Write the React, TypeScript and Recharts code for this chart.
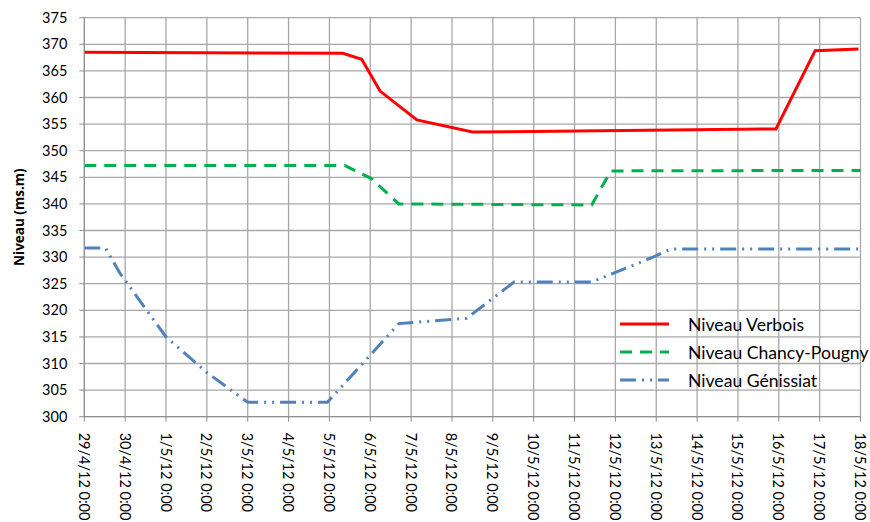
import React from 'react'
import { LineChart, Line, XAxis, YAxis, CartesianGrid, Legend } from 'recharts'

// x values are days since 29/4/12 0:00
const dayLabels = [
  '29/4/12 0:00', '30/4/12 0:00', '1/5/12 0:00', '2/5/12 0:00', '3/5/12 0:00',
  '4/5/12 0:00', '5/5/12 0:00', '6/5/12 0:00', '7/5/12 0:00', '8/5/12 0:00',
  '9/5/12 0:00', '10/5/12 0:00', '11/5/12 0:00', '12/5/12 0:00', '13/5/12 0:00',
  '14/5/12 0:00', '15/5/12 0:00', '16/5/12 0:00', '17/5/12 0:00', '18/5/12 0:00',
]
const dayTicks = dayLabels.map((_, i) => i)
const levelTicks = [300, 305, 310, 315, 320, 325, 330, 335, 340, 345, 350, 355, 360, 365, 370, 375]

const verboisDays = [0, 6.33, 6.79, 7.24, 8.14, 9.5, 16.93, 17.89, 18.95]
const verboisLevels = [368.5, 368.3, 367.2, 361.2, 355.8, 353.5, 354.1, 368.8, 369.1]

const chancyDays = [0, 6.38, 7.02, 7.7, 12.42, 12.89, 19]
const chancyLevels = [347.2, 347.2, 344.8, 340.0, 339.8, 346.2, 346.3]

const genissiatDays = [0, 0.52, 0.87, 2, 3, 4, 5.95, 7.7, 9.36, 10.52, 12.42, 13.95, 14.35, 19]
const genissiatLevels = [331.7, 331.7, 327.0, 315.0, 308.3, 302.7, 302.7, 317.5, 318.5, 325.3, 325.3, 330.1, 331.5, 331.5]

const toPoints = (days: number[], levels: number[]) => days.map((d, i) => ({ day: d, level: levels[i] }))

const verbois = toPoints(verboisDays, verboisLevels)
const chancy = toPoints(chancyDays, chancyLevels)
const genissiat = toPoints(genissiatDays, genissiatLevels)

const FONT = 'Lato, "Open Sans", sans-serif'
const GRID = '#a8a8a8'
const AXIS = '#8c8c8c'

const series = [
  { name: 'Niveau Verbois', color: '#ff0000', dash: undefined as string | undefined, data: verbois },
  { name: 'Niveau Chancy-Pougny', color: '#00b050', dash: '12 8', data: chancy },
  { name: 'Niveau Génissiat', color: '#4f81bd', dash: '16 6 2 6 2 6', data: genissiat },
]

const DayTick = ({ x, y, payload }: any) => (
  <text
    x={x}
    y={y + 9}
    transform={`rotate(90, ${x}, ${y + 9})`}
    textAnchor="start"
    dominantBaseline="central"
    fontFamily={FONT}
    fontSize={14.5}
    fill="#000"
  >
    {dayLabels[payload.value]}
  </text>
)

const YLabel = ({ viewBox }: any) => {
  const cx = 19
  const cy = viewBox.y + viewBox.height / 2
  return (
    <text
      x={cx}
      y={cy}
      transform={`rotate(-90, ${cx}, ${cy})`}
      textAnchor="middle"
      dominantBaseline="central"
      fontFamily='"Open Sans", sans-serif'
      fontWeight={700}
      fontSize={13.5}
      fill="#000"
    >
      Niveau (ms.m)
    </text>
  )
}

const renderLegend = () => (
  <svg width={270} height={90}>
    {series.map((s, i) => (
      <g key={s.name}>
        <line
          x1={5}
          x2={54}
          y1={13 + i * 28}
          y2={13 + i * 28}
          stroke={s.color}
          strokeWidth={3}
          strokeDasharray={s.dash}
        />
        <text x={73} y={13 + i * 28} dominantBaseline="central" fontFamily={FONT} fontSize={17.6} fill="#000">
          {s.name}
        </text>
      </g>
    ))}
  </svg>
)

export default function App() {
  return (
    <div style={{ position: 'absolute', left: 0, top: 0, width: 870, height: 522, background: '#fff' }}>
      <LineChart width={870} height={522} margin={{ top: 17.7, right: 9.5, bottom: 0, left: 0 }}>
        <CartesianGrid stroke={GRID} strokeWidth={1.3} />
        <XAxis
          type="number"
          dataKey="day"
          domain={[0, 19]}
          ticks={dayTicks}
          interval={0}
          height={105.3}
          stroke={AXIS}
          tickSize={5}
          tick={<DayTick />}
          allowDuplicatedCategory={false}
        />
        <YAxis
          type="number"
          dataKey="level"
          domain={[300, 375]}
          ticks={levelTicks}
          interval={0}
          width={84.3}
          stroke={AXIS}
          tickSize={5}
          tickMargin={12}
          tick={{ fontFamily: FONT, fontSize: 14.5, fill: '#000' }}
          label={<YLabel />}
        />
        <Legend
          content={renderLegend}
          layout="horizontal"
          align="center"
          verticalAlign="middle"
          wrapperStyle={{ position: 'absolute', left: 615, top: 311, width: 270, height: 90 }}
        />
        {series.map((s) => (
          <Line
            key={s.name}
            data={s.data}
            dataKey="level"
            name={s.name}
            type="linear"
            stroke={s.color}
            strokeWidth={3}
            strokeDasharray={s.dash}
            dot={false}
            activeDot={false}
            isAnimationActive={false}
          />
        ))}
      </LineChart>
    </div>
  )
}
